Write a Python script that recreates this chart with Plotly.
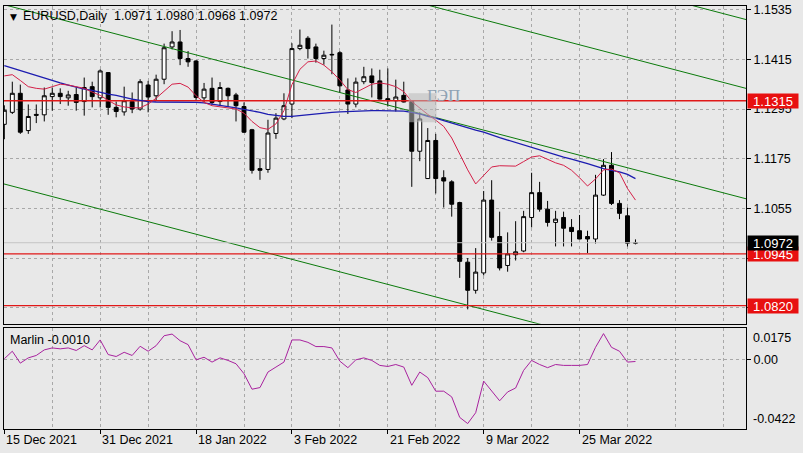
import plotly.graph_objects as go

# ---------------- data ----------------
symbol = "EURUSD,Daily"
date_labels = ["15 Dec 2021", "31 Dec 2021", "18 Jan 2022", "3 Feb 2022",
               "21 Feb 2022", "9 Mar 2022", "25 Mar 2022"]
date_label_bars = [0, 12, 24, 36, 48, 60, 72]

opens = [1.1258,1.1287,1.1333,1.1243,1.1282,1.1281,1.1325,1.1333,1.1322,1.1330,
         1.1313,1.1349,1.1322,1.1383,1.1299,1.1288,1.1313,1.1295,1.1353,1.1327,
         1.1367,1.1445,1.1457,1.1417,1.1411,1.1322,1.1345,1.1313,1.1345,1.1329,
         1.1301,1.1245,1.1151,1.1149,1.1236,1.1271,1.1307,1.1441,1.1466,1.1445,
         1.1417,1.1427,1.1431,1.1341,1.1307,1.1361,1.1375,1.1363,1.1320,1.1315,
         1.1328,1.1313,1.1193,1.1127,1.1219,1.1129,1.1119,1.1069,1.0925,1.0857,
         1.0899,1.1075,1.0987,1.0917,1.0943,1.0952,1.1033,1.1093,1.1053,1.1021,
         1.1033,1.1009,1.1001,1.0987,1.0981,1.1087,1.1159,1.1067,1.1037,1.0971]
highs = [1.1304,1.1361,1.1354,1.1306,1.1306,1.1347,1.1347,1.1345,1.1339,1.1347,
         1.1371,1.1361,1.1391,1.1384,1.1313,1.1349,1.1335,1.1367,1.1363,1.1378,
         1.1453,1.1483,1.1486,1.1435,1.1413,1.1358,1.1371,1.1360,1.1347,1.1334,
         1.1311,1.1247,1.1175,1.1269,1.1285,1.1333,1.1454,1.1487,1.1471,1.1453,
         1.1436,1.1499,1.1435,1.1369,1.1371,1.1397,1.1393,1.1390,1.1393,1.1366,
         1.1361,1.1313,1.1287,1.1249,1.1235,1.1147,1.1123,1.1071,1.0935,1.0959,
         1.1097,1.1123,1.1047,1.0997,1.1024,1.1049,1.1141,1.1119,1.1073,1.1049,
         1.1047,1.1029,1.1039,1.1001,1.1136,1.1174,1.1191,1.1075,1.1057,1.0980]
lows = [1.1222,1.1283,1.1235,1.1235,1.1261,1.1265,1.1291,1.1307,1.1303,1.1291,
        1.1279,1.1299,1.1299,1.1281,1.1275,1.1279,1.1285,1.1291,1.1287,1.1315,
        1.1355,1.1439,1.1401,1.1397,1.1317,1.1311,1.1305,1.1303,1.1301,1.1265,
        1.1237,1.1139,1.1124,1.1141,1.1223,1.1268,1.1273,1.1437,1.1417,1.1407,
        1.1402,1.1379,1.1335,1.1283,1.1299,1.1355,1.1323,1.1318,1.1301,1.1289,
        1.1311,1.1107,1.1169,1.1126,1.1091,1.1057,1.1035,1.0887,1.0811,1.0849,
        1.0893,1.0977,1.0905,1.0902,1.0929,1.0949,1.1009,1.1047,1.1011,1.0963,
        1.0963,1.0963,1.0980,1.0947,1.0970,1.1085,1.1063,1.1029,1.0963,1.0968]
closes = [1.1292,1.1333,1.1239,1.1277,1.1280,1.1327,1.1333,1.1325,1.1329,1.1311,
          1.1347,1.1325,1.1387,1.1299,1.1289,1.1315,1.1295,1.1361,1.1324,1.1367,
          1.1443,1.1457,1.1417,1.1409,1.1323,1.1343,1.1311,1.1347,1.1327,1.1303,
          1.1239,1.1147,1.1147,1.1237,1.1273,1.1303,1.1441,1.1449,1.1441,1.1417,
          1.1425,1.1426,1.1351,1.1307,1.1360,1.1373,1.1359,1.1319,1.1315,1.1324,
          1.1312,1.1193,1.1271,1.1219,1.1127,1.1121,1.1065,1.0927,1.0857,1.0901,
          1.1075,1.0985,1.0911,1.0945,1.0950,1.1035,1.1093,1.1053,1.1021,1.1029,
          1.1007,1.0999,1.0981,1.0981,1.1087,1.1159,1.1067,1.1043,1.0971,1.0972]

ma_fast = [1.1375,1.1378,1.1364,1.1349,1.1345,1.1343,1.1349,1.1355,1.1353,1.1349,
           1.1345,1.1336,1.1328,1.1316,1.1305,1.1300,1.1298,1.1298,1.1307,1.1321,
           1.1337,1.1355,1.1357,1.1348,1.1327,1.1311,1.1303,1.1300,1.1298,1.1295,
           1.1285,1.1265,1.1250,1.1246,1.1259,1.1291,1.1354,1.1391,1.1409,1.1411,
           1.1401,1.1385,1.1365,1.1342,1.1335,1.1345,1.1355,1.1358,1.1355,1.1349,
           1.1337,1.1313,1.1297,1.1282,1.1268,1.1253,1.1225,1.1186,1.1148,1.1114,
           1.1135,1.1155,1.1158,1.1157,1.1157,1.1168,1.1179,1.1182,1.1174,1.1165,
           1.1159,1.1147,1.1129,1.1109,1.1126,1.1148,1.1150,1.1141,1.1103,1.1075]
ma_slow = [1.1400,1.1394,1.1388,1.1381,1.1375,1.1369,1.1363,1.1358,1.1353,1.1348,
           1.1343,1.1340,1.1335,1.1331,1.1328,1.1323,1.1319,1.1316,1.1313,1.1312,
           1.1312,1.1312,1.1312,1.1312,1.1311,1.1310,1.1307,1.1305,1.1301,1.1298,
           1.1294,1.1291,1.1287,1.1282,1.1279,1.1277,1.1277,1.1279,1.1282,1.1283,
           1.1286,1.1287,1.1288,1.1289,1.1289,1.1290,1.1291,1.1291,1.1291,1.1291,
           1.1290,1.1287,1.1283,1.1277,1.1273,1.1267,1.1261,1.1255,1.1249,1.1244,
           1.1239,1.1232,1.1226,1.1220,1.1214,1.1208,1.1202,1.1196,1.1190,1.1184,
           1.1179,1.1174,1.1169,1.1163,1.1157,1.1151,1.1147,1.1143,1.1137,1.1127]

marlin = [0.0008,0.0058,-0.0021,0.0014,0.0030,0.0067,0.0080,0.0074,0.0080,0.0063,
          0.0095,0.0067,0.0133,0.0036,0.0023,0.0051,0.0030,0.0091,0.0058,0.0095,
          0.0161,0.0172,0.0128,0.0102,0.0001,0.0018,-0.0014,0.0014,-0.0003,-0.0025,
          -0.0091,-0.0194,-0.0183,-0.0080,-0.0047,-0.0014,0.0133,0.0133,0.0117,0.0089,
          0.0089,0.0080,-0.0008,-0.0051,0.0001,0.0014,-0.0003,-0.0036,-0.0043,-0.0030,
          -0.0047,-0.0168,-0.0080,-0.0117,-0.0207,-0.0207,-0.0245,-0.0381,-0.0422,-0.0350,
          -0.0140,-0.0205,-0.0271,-0.0212,-0.0186,-0.0069,-0.0003,-0.0030,-0.0051,-0.0030,
          -0.0036,-0.0036,-0.0036,-0.0030,0.0084,0.0175,0.0084,0.0058,-0.0014,-0.0010]

# trend channel lines: (bar, price) end points
channel_bars = [-1, 94]
channel_lines = [
    [1.1552, 1.10723],
    [1.18188, 1.13390],
    [1.19851, 1.15053],
    [1.11188, 1.06390],
]
levels = [1.1315, 1.0945, 1.0820]
price_ticks = [1.1535, 1.1415, 1.1295, 1.1175, 1.1055, 1.0935, 1.0815]
price_tick_text = ["1.1535", "1.1415", "1.1295", "1.1175", "1.1055", "", ""]
marlin_max, marlin_min = 0.0175, -0.0422
gap_box_bars = [50.6, 54.1]
gap_box_prices = [1.1263, 1.1333]
gap_text = "ГЭП"
gap_text_pos = (55.0, 1.1327)

# ---------------- styling ----------------
BG = "#e8e8e8"
GRID = "#a8a8a8"
FONT = "Liberation Sans"
FS = 12.5
bars = list(range(len(opens)))
last_close = closes[-1]

fig = go.Figure()

for ys in channel_lines:
    fig.add_trace(go.Scatter(x=channel_bars, y=ys, mode="lines",
                             line=dict(color="#0b7a0b", width=1),
                             xaxis="x", yaxis="y", hoverinfo="skip", showlegend=False))

for lv in levels:
    fig.add_trace(go.Scatter(x=channel_bars, y=[lv, lv], mode="lines",
                             line=dict(color="#e01818", width=1.3),
                             xaxis="x", yaxis="y", hoverinfo="skip", showlegend=False))

fig.add_trace(go.Scatter(x=channel_bars, y=[last_close, last_close], mode="lines",
                         line=dict(color="#c4c4c4", width=1),
                         xaxis="x", yaxis="y", hoverinfo="skip", showlegend=False))

fig.add_trace(go.Scatter(x=bars, y=ma_slow, mode="lines",
                         line=dict(color="#1c1cb0", width=1.3),
                         xaxis="x", yaxis="y", showlegend=False))
fig.add_trace(go.Scatter(x=bars, y=ma_fast, mode="lines",
                         line=dict(color="#d42048", width=1),
                         xaxis="x", yaxis="y", showlegend=False))

fig.add_trace(go.Candlestick(
    x=bars, open=opens, high=highs, low=lows, close=closes,
    increasing=dict(line=dict(color="black", width=1), fillcolor="white"),
    decreasing=dict(line=dict(color="black", width=1), fillcolor="black"),
    whiskerwidth=0, xaxis="x", yaxis="y", showlegend=False))

fig.add_trace(go.Scatter(x=bars, y=marlin, mode="lines",
                         line=dict(color="#a8229e", width=1),
                         xaxis="x2", yaxis="y2", showlegend=False))

# gap rectangle
fig.add_shape(type="rect", xref="x", yref="y",
              x0=gap_box_bars[0], x1=gap_box_bars[1],
              y0=gap_box_prices[0], y1=gap_box_prices[1],
              fillcolor="rgba(185,185,185,0.55)", line=dict(width=0), layer="above")

xr = [-0.04, 92.835]
grid_common = dict(showgrid=True, gridcolor=GRID, griddash="3px,3px", gridwidth=1)

fig.update_layout(
    width=803, height=453,
    margin=dict(l=3, r=57, t=3, b=24),
    paper_bgcolor=BG, plot_bgcolor=BG,
    font=dict(family=FONT, size=FS, color="black"),
    showlegend=False,
    xaxis=dict(domain=[0, 1], anchor="y", range=xr, tick0=0, dtick=6,
               showticklabels=False, ticks="", zeroline=False,
               showline=True, linecolor="black", linewidth=1, mirror=True,
               rangeslider=dict(visible=False), **grid_common),
    yaxis=dict(domain=[0.2488, 1], anchor="x", side="right",
               range=[1.07762, 1.15439],
               tickvals=price_ticks, ticktext=price_tick_text,
               ticks="outside", ticklen=4, tickcolor="black",
               zeroline=False, showline=True, linecolor="black", linewidth=1,
               mirror=True, **grid_common),
    xaxis2=dict(domain=[0, 1], anchor="y2", range=xr, matches="x",
                tickmode="array", tickvals=date_label_bars,
                showticklabels=False, ticks="outside", ticklen=4, tickcolor="black",
                zeroline=False, showline=True, linecolor="black", linewidth=1,
                mirror=True,
                minor=dict(tick0=0, dtick=6, showgrid=True, gridcolor=GRID,
                           griddash="3px,3px", ticks=""),
                **grid_common),
    yaxis2=dict(domain=[0, 0.2394], anchor="x2", side="right",
                range=[-0.0458, 0.0214],
                tickvals=[0], ticktext=["0.00"],
                ticks="outside", ticklen=4, tickcolor="black",
                zeroline=False, showline=True, linecolor="black", linewidth=1,
                mirror=True, **grid_common),
)

ann = []
for b, lab in zip(date_label_bars, date_labels):
    ann.append(dict(x=b, xref="x2", y=0, yref="paper", yanchor="top", yshift=-2,
                    xanchor="left", text=lab, showarrow=False,
                    font=dict(family=FONT, size=FS, color="black")))

# indicator scale labels
ann.append(dict(x=1, xref="paper", xanchor="left", xshift=5, y=1, yref="y2 domain",
                yanchor="top", yshift=-1, text=f"{marlin_max:.4f}", showarrow=False))
ann.append(dict(x=1, xref="paper", xanchor="left", xshift=5, y=0, yref="y2 domain",
                yanchor="bottom", yshift=1, text=f"{marlin_min:.4f}", showarrow=False))

# price boxes
for lv in levels:
    ann.append(dict(x=1, xref="paper", xanchor="left", xshift=1, y=lv, yref="y",
                    yanchor="middle", text=f"{lv:.4f}", showarrow=False,
                    bgcolor="#e81010", width=48, height=12, borderpad=1,
                    font=dict(family=FONT, size=13, color="white")))
ann.append(dict(x=1, xref="paper", xanchor="left", xshift=1, y=last_close, yref="y",
                yanchor="middle", text=f"{last_close:.4f}", showarrow=False,
                bgcolor="black", width=48, height=12, borderpad=1,
                font=dict(family=FONT, size=13, color="white")))

# header
header = f"{symbol}  {opens[-1]:.4f} {highs[-1]:.4f} {lows[-1]:.4f} {closes[-1]:.4f}"
ann.append(dict(x=0, xref="paper", xanchor="left", xshift=17, y=1, yref="paper",
                yanchor="top", yshift=-1, text=header, showarrow=False,
                font=dict(family=FONT, size=FS, color="black")))
ann.append(dict(x=0, xref="paper", xanchor="left", xshift=4, y=1, yref="paper",
                yanchor="top", yshift=-4, text="▼", showarrow=False,
                font=dict(family="DejaVu Sans", size=9, color="black")))

ann.append(dict(x=0, xref="paper", xanchor="left", xshift=4, y=1, yref="y2 domain",
                yanchor="top", yshift=-3, text=f"Marlin {marlin[-1]:.4f}",
                showarrow=False, font=dict(family=FONT, size=FS, color="black")))

ann.append(dict(x=gap_text_pos[0], xref="x", y=gap_text_pos[1], yref="y",
                text=gap_text, showarrow=False,
                font=dict(family="Liberation Serif", size=17, color="#8ea2b4")))

fig.update_layout(annotations=ann)

fig.write_html("out.html",
               config={"displayModeBar": False, "staticPlot": True},
               post_script="document.body.style.margin='0px';"
                           "document.body.style.overflow='hidden';"
                           "document.body.style.background='" + BG + "';")
